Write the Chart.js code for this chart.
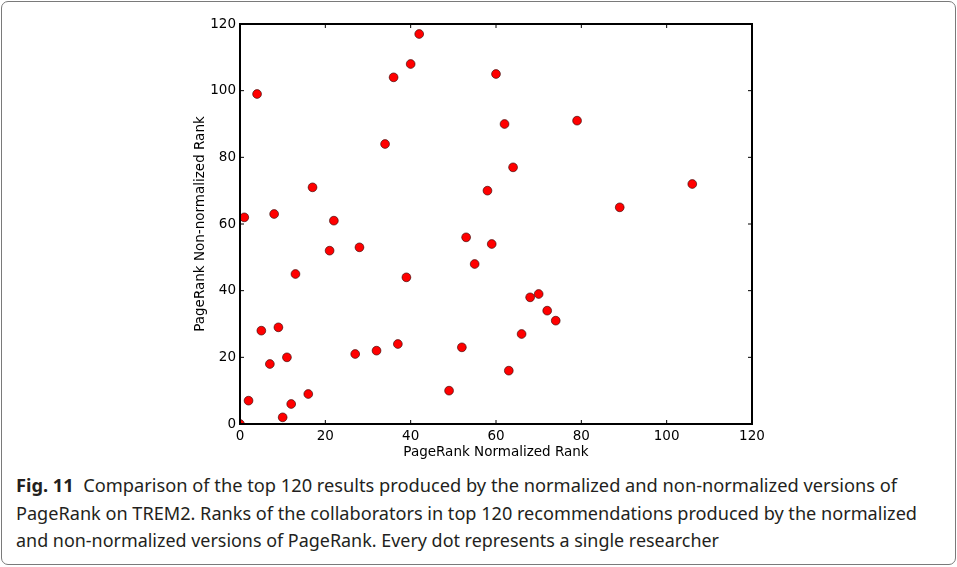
<!DOCTYPE html>
<html>
<head>
<meta charset="utf-8">
<script src="https://cdn.jsdelivr.net/npm/chart.js@4.4.1/dist/chart.umd.min.js"></script>
<style>
  html, body { margin: 0; padding: 0; background: #fff; }
  body { width: 957px; height: 567px; position: relative; overflow: hidden; }
  .frame {
    position: absolute; left: 1px; top: 1px; width: 955px; height: 564px;
    box-sizing: border-box; border: 1px solid #7a7a7a; border-radius: 7px;
  }
  .chart-wrap { position: absolute; left: 0; top: 0; width: 957px; height: 465px; }
  .caption {
    position: absolute; left: 16px; top: 471px;
    font-family: "Noto Sans", "Open Sans", sans-serif; font-size: 18.5px;
    line-height: 27.5px; color: #231f20;
  }
  .caption div { white-space: nowrap; transform-origin: 0 0; width: max-content; }
  .caption b { font-weight: 700; }
</style>
</head>
<body>
<div class="frame"></div>
<div class="chart-wrap"><canvas id="scatterChart"></canvas></div>
<div class="caption">
  <div data-w="881"><b>Fig. 11</b>&nbsp; Comparison of the top 120 results produced by the normalized and non-normalized versions of</div>
  <div data-w="901">PageRank on TREM2. Ranks of the collaborators in top 120 recommendations produced by the normalized</div>
  <div data-w="703">and non-normalized versions of PageRank. Every dot represents a single researcher</div>
</div>
<script>
// ---------- DATA ----------
const normalizedRank = [0, 1, 2, 4, 5, 7, 8, 9, 10, 11, 12, 13, 16, 17, 21, 22, 27, 28, 32, 34, 36, 37, 39, 40, 42,
    49, 52, 53, 55, 58, 59, 60, 62, 63, 64, 66, 68, 70, 72, 74, 79, 89, 106];
const nonNormalizedRank = [0, 62, 7, 99, 28, 18, 63, 29, 2, 20, 6, 45, 9, 71, 52, 61, 21, 53, 22, 84, 104, 24, 44, 108, 117,
    10, 23, 56, 48, 70, 54, 105, 90, 16, 77, 27, 38, 39, 34, 31, 91, 65, 72];
const tickValues = [0, 20, 40, 60, 80, 100, 120];

const points = normalizedRank.map((x, i) => ({ x: x, y: nonNormalizedRank[i] }));

// ---------- Plugin: box frame + inward ticks on all four sides ----------
const boxFramePlugin = {
    id: "boxFrame",
    afterDatasetsDraw(chart) {
        const { ctx, chartArea: a, scales } = chart;
        ctx.save();
        ctx.strokeStyle = "#000";
        ctx.lineWidth = 1;
        tickValues.forEach(v => {
            const px = scales.x.getPixelForValue(v);
            const py = scales.y.getPixelForValue(v);
            ctx.beginPath();
            ctx.moveTo(px, a.bottom); ctx.lineTo(px, a.bottom - 4);
            ctx.moveTo(px, a.top); ctx.lineTo(px, a.top + 4);
            ctx.moveTo(a.left, py); ctx.lineTo(a.left + 4, py);
            ctx.moveTo(a.right, py); ctx.lineTo(a.right - 4, py);
            ctx.stroke();
        });
        ctx.lineWidth = 2;
        ctx.strokeRect(a.left, a.top, a.right - a.left, a.bottom - a.top);
        ctx.restore();
    }
};

const tickFont = { family: "'DejaVu Sans', sans-serif", size: 13.5 };

new Chart(document.getElementById("scatterChart").getContext("2d"), {
    type: "scatter",
    data: {
        datasets: [{
            label: "Researchers",
            data: points,
            backgroundColor: "#ff0000",
            borderColor: "rgba(40,0,0,0.75)",
            borderWidth: 0.8,
            pointRadius: 4.4,
            pointHoverRadius: 4.4,
            clip: 0
        }]
    },
    options: {
        responsive: true,
        maintainAspectRatio: false,
        animation: false,
        layout: { padding: { left: 188, top: 24, right: 205, bottom: 0 } },
        scales: {
            x: {
                type: "linear", min: 0, max: 120,
                grid: { display: false, drawTicks: false },
                border: { display: false },
                ticks: { stepSize: 20, padding: 4, color: "#000", font: tickFont, maxRotation: 0 },
                title: { display: true, text: "PageRank Normalized Rank", color: "#000", font: tickFont, padding: 4 },
                afterFit(scale) { scale.height = 41; }
            },
            y: {
                type: "linear", min: 0, max: 120,
                grid: { display: false, drawTicks: false },
                border: { display: false },
                ticks: { stepSize: 20, padding: 4, color: "#000", font: tickFont },
                title: { display: true, text: "PageRank Non-normalized Rank", color: "#000", font: tickFont, padding: 4 },
                afterFit(scale) { scale.width = 52; }
            }
        },
        plugins: {
            legend: { display: false },
            title: { display: false },
            tooltip: { enabled: false }
        }
    },
    plugins: [boxFramePlugin]
});

// ---------- Caption: squeeze each line to the reference width ----------
document.querySelectorAll(".caption div").forEach(line => {
    const target = parseFloat(line.dataset.w);
    const w = line.getBoundingClientRect().width;
    if (w > 0) line.style.transform = `scaleX(${target / w})`;
});
</script>
</body>
</html>
